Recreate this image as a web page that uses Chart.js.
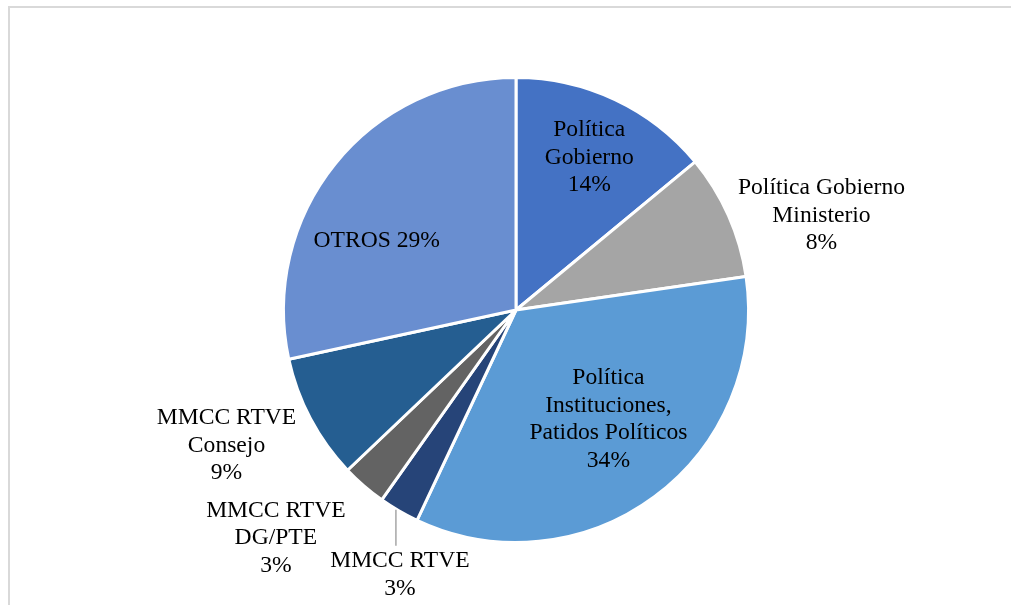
<!DOCTYPE html>
<html>
<head>
<meta charset="utf-8">
<script src="https://cdn.jsdelivr.net/npm/chart.js@4/dist/chart.umd.min.js"></script>
<style>
    html, body { margin: 0; padding: 0; background: #fff; overflow: hidden; }
    #wrap { position: relative; width: 1011px; height: 605px; overflow: hidden; }
    #frame {
        position: absolute; left: 8px; top: 6px; width: 1300px; height: 800px;
        border-top: 2px solid #d9d9d9; border-left: 2px solid #d9d9d9; box-sizing: border-box;
    }
    canvas { position: absolute; left: 0; top: 0; }
</style>
</head>
<body>
<div id="wrap">
    <div id="frame"></div>
    <canvas id="pieChart" width="1011" height="605"></canvas>
</div>
<script>
// Slices, clockwise from 12 o'clock
const CATEGORIES = [
    ['Política', 'Gobierno'],
    ['Política Gobierno', 'Ministerio'],
    ['Política', 'Instituciones,', 'Patidos Políticos'],
    ['MMCC RTVE'],
    ['MMCC RTVE', 'DG/PTE'],
    ['MMCC RTVE', 'Consejo'],
    ['OTROS']
];
const SHARES = [14.0, 8.7, 34.3, 2.8, 3.1, 8.7, 28.4];
const PERCENT_LABELS = ['14%', '8%', '34%', '3%', '3%', '9%', '29%'];
const COLORS = ['#4472C4', '#A5A5A5', '#5B9BD5', '#264478', '#636363', '#255E91', '#698ED0'];

// label placement: radial factor along slice middle, then pixel nudge
const LABEL_PLACE = [
    { f: 0.73, dx: 1, dy: 1 },
    { f: 1.0, dx: 93, dy: 0 },
    { f: 0.617, dx: 7, dy: -6 },
    { f: 1.0, dx: 1, dy: 64, leader: true },
    { f: 1.0, dx: -88, dy: 52 },
    { f: 1.0, dx: -84, dy: 27 },
    { f: 0.67, dx: -18, dy: 29, inline: true }
];

const FONT = '23.6px "Liberation Serif", "Times New Roman", serif';
const LINE_H = 27.5;

const sliceLabels = {
    id: 'sliceLabels',
    afterDatasetsDraw(chart) {
        const ctx = chart.ctx;
        const meta = chart.getDatasetMeta(0);
        ctx.save();
        ctx.font = FONT;
        ctx.fillStyle = '#000';
        ctx.textAlign = 'center';
        ctx.textBaseline = 'middle';
        meta.data.forEach((arc, i) => {
            const p = arc.getProps(['x', 'y', 'startAngle', 'endAngle', 'outerRadius'], true);
            const mid = (p.startAngle + p.endAngle) / 2;
            const place = LABEL_PLACE[i];
            const r = p.outerRadius * place.f;
            const ax = p.x + Math.cos(mid) * r;
            const ay = p.y + Math.sin(mid) * r;

            if (place.leader) {
                ctx.strokeStyle = '#a6a6a6';
                ctx.lineWidth = 1.5;
                ctx.beginPath();
                ctx.moveTo(ax - 3, ay - 1);
                ctx.lineTo(ax - 3, ay + 35);
                ctx.stroke();
            }

            const lines = place.inline
                ? [CATEGORIES[i].join(' ') + ' ' + PERCENT_LABELS[i]]
                : CATEGORIES[i].concat([PERCENT_LABELS[i]]);
            const cx = ax + place.dx;
            const cy = ay + place.dy;
            const top = cy - (lines.length - 1) * LINE_H / 2;
            lines.forEach((line, k) => {
                ctx.fillText(line, cx, top + k * LINE_H);
            });
        });
        ctx.restore();
    }
};

new Chart(document.getElementById('pieChart').getContext('2d'), {
    type: 'pie',
    data: {
        labels: CATEGORIES.map(c => c.join(' ')),
        datasets: [{
            data: SHARES,
            backgroundColor: COLORS,
            borderColor: '#ffffff',
            borderWidth: 3
        }]
    },
    options: {
        responsive: false,
        animation: false,
        layout: { padding: { top: 76, bottom: 61, left: 282, right: 261 } },
        plugins: {
            legend: { display: false },
            tooltip: { enabled: false }
        }
    },
    plugins: [sliceLabels]
});
</script>
</body>
</html>
